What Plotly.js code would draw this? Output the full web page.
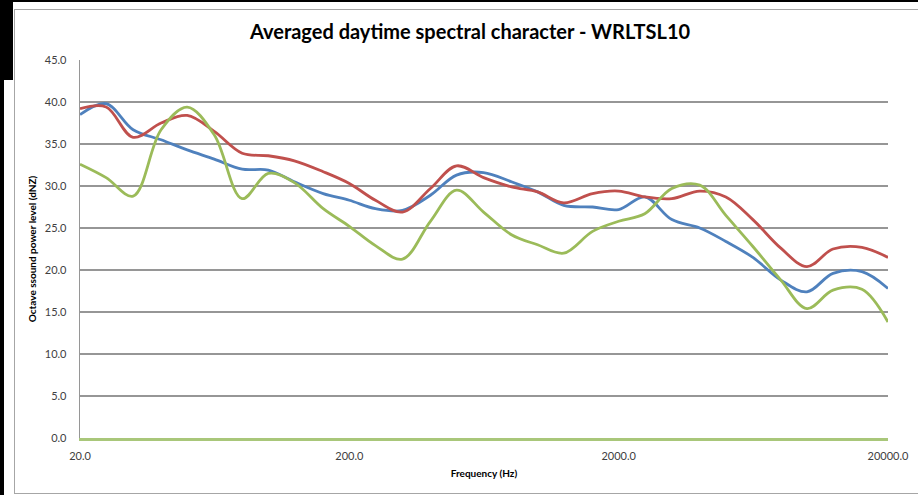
<!DOCTYPE html>
<html>
<head>
<meta charset="utf-8">
<script src="https://cdn.plot.ly/plotly-3.0.1.min.js"></script>
<style>
  html, body { margin:0; padding:0; background:#fff; }
  #wrap { position:relative; width:918px; height:495px; overflow:hidden; }
  #chart { position:absolute; left:0; top:0; width:918px; height:495px; }
  .ov { position:absolute; pointer-events:none; }
</style>
</head>
<body>
<div id="wrap">
  <div id="chart"></div>
  <div class="ov" style="left:0;top:0;width:918px;height:2px;background:#000;"></div>
  <div class="ov" style="left:0;top:0;width:13px;height:80px;background:#000;"></div>
  <div class="ov" style="left:0;top:0;width:4px;height:495px;background:#000;"></div>
  <div class="ov" style="left:14px;top:9px;width:920px;height:483px;border:1px solid #a6a6a6;border-right:none;"></div>
</div>
<script>
const frequencies = [20, 25, 31.5, 40, 50, 63, 80, 100, 125, 160, 200, 250, 315, 400, 500, 630, 800, 1000, 1250, 1600, 2000, 2500, 3150, 4000, 5000, 6300, 8000, 10000, 12500, 16000, 20000];
const seriesBlue  = [38.5, 39.8, 36.7, 35.5, 34.3, 33.2, 32.0, 31.9, 30.5, 29.1, 28.3, 27.3, 27.1, 28.9, 31.3, 31.6, 30.5, 29.3, 27.7, 27.5, 27.2, 28.7, 26.0, 25.0, 23.4, 21.5, 18.8, 17.4, 19.6, 19.8, 17.8];
const seriesRed   = [39.2, 39.4, 35.8, 37.5, 38.4, 36.5, 33.9, 33.6, 33.0, 31.7, 30.3, 28.3, 26.9, 29.7, 32.4, 31.0, 29.9, 29.3, 28.0, 29.1, 29.4, 28.7, 28.5, 29.4, 28.7, 26.0, 22.6, 20.4, 22.5, 22.7, 21.5];
const seriesGreen = [32.6, 31.0, 28.8, 36.7, 39.4, 36.1, 28.5, 31.5, 30.4, 27.3, 25.2, 22.9, 21.3, 25.8, 29.5, 26.9, 24.2, 23.0, 22.0, 24.6, 25.8, 26.7, 29.7, 30.1, 26.5, 22.8, 18.8, 15.4, 17.6, 17.7, 13.8];
const xTickVals = [20, 200, 2000, 20000];
const xTickText = ["20.0", "200.0", "2000.0", "20000.0"];

const FONT = "Lato, 'Open Sans', sans-serif";
function mk(y, color) {
  return { x: frequencies, y: y, type: 'scatter', mode: 'lines',
           line: { color: color, width: 2.8, shape: 'spline', smoothing: 1 },
           hoverinfo: 'x+y' };
}
const data = [mk(seriesBlue, '#4F81BD'), mk(seriesRed, '#C0504D'), mk(seriesGreen, '#9BBB59')];

const layout = {
  width: 918, height: 495,
  margin: { l: 80, r: 30, t: 60, b: 57 },
  paper_bgcolor: '#fff', plot_bgcolor: '#fff',
  showlegend: false,
  font: { family: FONT, color: '#404040', size: 11 },
  title: { text: 'Averaged daytime spectral character - WRLTSL10',
           font: { family: FONT, size: 20, color: '#000', weight: 'bold' },
           xref: 'container', x: 0.512, xanchor: 'center',
           yref: 'container', y: 0.935, yanchor: 'middle' },
  xaxis: {
    type: 'log', range: [Math.log10(20), Math.log10(20000)],
    tickvals: xTickVals, ticktext: xTickText,
    showgrid: false, zeroline: false,
    showline: true, linecolor: '#A9C77A', linewidth: 2.5,
    ticks: '', ticklabelstandoff: 6,
    tickfont: { family: FONT, size: 11, color: '#404040' },
    title: { text: 'Frequency (Hz)', font: { family: FONT, size: 10, color: '#000', weight: 'bold' }, standoff: 10 }
  },
  yaxis: {
    range: [0, 45], dtick: 5, tickformat: '.1f',
    showgrid: true, gridcolor: '#969696', gridwidth: 1.3,
    zeroline: false, showline: true, linecolor: '#969696', linewidth: 1.3,
    ticks: '', ticklabelstandoff: 10,
    tickfont: { family: FONT, size: 11, color: '#404040' },
    title: { text: 'Octave ssound power level (dNZ)', font: { family: FONT, size: 10, color: '#000', weight: 'bold' }, standoff: 6 }
  }
};
Plotly.newPlot('chart', data, layout, { displayModeBar: false, staticPlot: true });
</script>
</body>
</html>
